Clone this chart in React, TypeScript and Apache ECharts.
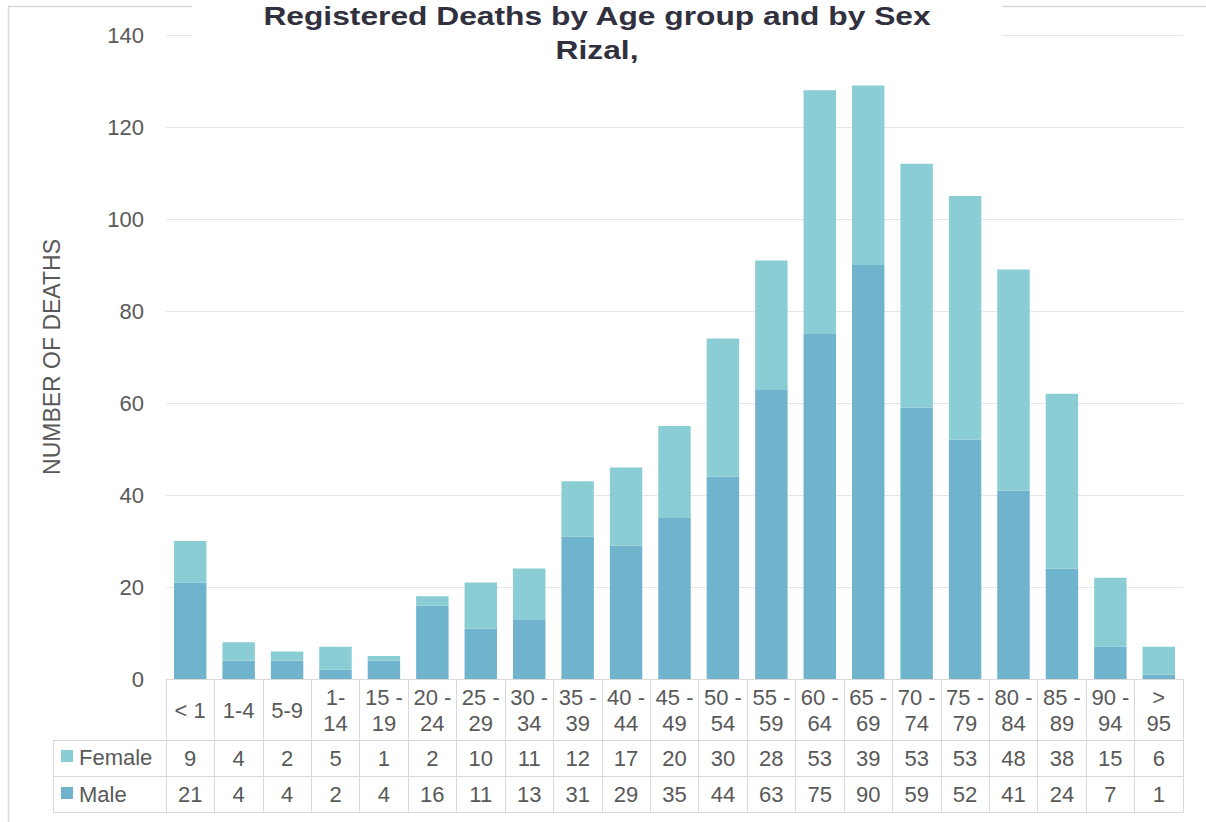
import React, { useEffect, useRef } from "react";
import * as echarts from "echarts";

const categories = ["< 1", "1-4", "5-9", "1-\n14", "15 -\n19", "20 -\n24", "25 -\n29", "30 -\n34", "35 -\n39", "40 -\n44", "45 -\n49", "50 -\n54", "55 -\n59", "60 -\n64", "65 -\n69", "70 -\n74", "75 -\n79", "80 -\n84", "85 -\n89", "90 -\n94", ">\n95"];
const female = [9, 4, 2, 5, 1, 2, 10, 11, 12, 17, 20, 30, 28, 53, 39, 53, 53, 48, 38, 15, 6];
const male = [21, 4, 4, 2, 4, 16, 11, 13, 31, 29, 35, 44, 63, 75, 90, 59, 52, 41, 24, 7, 1];
const yTicks = { min: 0, max: 140, interval: 20 };

const FEMALE_COLOR = "#8bcdd4";
const MALE_COLOR = "#70b3cd";
const TEXT = "#595959";
const LINE = "#d9d9d9";
const FONT = "Liberation Sans, Arial, sans-serif";

export default function App() {
  const ref = useRef<HTMLDivElement>(null);
  useEffect(() => {
    if (!ref.current) return;
    const chart = echarts.init(ref.current, null, { renderer: "svg" });
    const gridLeft = 166, gridRight = 1183;
    const valueAxis = (vals: number[], margin: number) => ({
      type: "category",
      gridIndex: 0,
      position: "bottom",
      data: vals.map(String),
      axisLine: { show: false },
      axisTick: { show: false },
      splitLine: { show: false },
      axisLabel: { interval: 0, margin, verticalAlign: "middle", fontSize: 22, color: TEXT, fontFamily: FONT },
    });
    chart.setOption({
      animation: false,
      textStyle: { fontFamily: FONT },
      grid: { left: gridLeft, right: 1206 - gridRight, top: 35, bottom: 143, containLabel: false },
      xAxis: [
        {
          type: "category",
          data: categories,
          position: "bottom",
          axisLine: { show: true, lineStyle: { color: LINE, width: 1 } },
          axisTick: { show: true, length: 133, interval: 0, lineStyle: { color: LINE, width: 1 } },
          axisLabel: { interval: 0, margin: 31, verticalAlign: "middle", fontSize: 22, lineHeight: 26, color: TEXT, fontFamily: FONT },
        },
        valueAxis(female, 79),
        valueAxis(male, 115),
      ],
      yAxis: {
        type: "value",
        min: yTicks.min,
        max: yTicks.max,
        interval: yTicks.interval,
        name: "NUMBER OF DEATHS",
        nameLocation: "middle",
        nameGap: 103,
        nameTextStyle: { fontSize: 23, color: TEXT, fontFamily: FONT },
        axisLine: { show: false },
        axisTick: { show: false },
        axisLabel: { fontSize: 22, color: TEXT, margin: 22, fontFamily: FONT },
        splitLine: { lineStyle: { color: "#e6e6e6", width: 1 } },
      },
      series: [
        { name: "Male", type: "bar", stack: "total", data: male, barWidth: "67%", itemStyle: { color: MALE_COLOR } },
        { name: "Female", type: "bar", stack: "total", data: female, barWidth: "67%", itemStyle: { color: FEMALE_COLOR } },
      ],
      graphic: [
        { type: "rect", z: 1, silent: true, shape: { x: 8.5, y: 6.5, width: 1400, height: 1000 }, style: { fill: "none", stroke: LINE, lineWidth: 1.5 } },
        { type: "rect", z: 50, silent: true, shape: { x: 192, y: 0, width: 810, height: 68 }, style: { fill: "#ffffff" } },
        { type: "text", z: 60, x: 597, y: 16, scaleX: 1.27, style: { text: "Registered Deaths by Age group and by Sex", font: `bold 25px ${FONT}`, fill: "#31303f", align: "center", verticalAlign: "middle" } },
        { type: "text", z: 60, x: 597, y: 50, scaleX: 1.27, style: { text: "Rizal,", font: `bold 25px ${FONT}`, fill: "#31303f", align: "center", verticalAlign: "middle" } },
        { type: "line", z: 5, silent: true, shape: { x1: 53, y1: 740.5, x2: gridRight, y2: 740.5 }, style: { stroke: LINE, lineWidth: 1 } },
        { type: "line", z: 5, silent: true, shape: { x1: 53, y1: 776.5, x2: gridRight, y2: 776.5 }, style: { stroke: LINE, lineWidth: 1 } },
        { type: "line", z: 5, silent: true, shape: { x1: 53, y1: 812.5, x2: gridRight, y2: 812.5 }, style: { stroke: LINE, lineWidth: 1 } },
        { type: "line", z: 5, silent: true, shape: { x1: 53.5, y1: 740, x2: 53.5, y2: 812 }, style: { stroke: LINE, lineWidth: 1 } },
        { type: "rect", z: 5, silent: true, shape: { x: 61, y: 750, width: 12, height: 12 }, style: { fill: FEMALE_COLOR } },
        { type: "text", z: 5, x: 79, y: 757, style: { text: "Female", font: `22px ${FONT}`, fill: TEXT, verticalAlign: "middle" } },
        { type: "rect", z: 5, silent: true, shape: { x: 61, y: 787, width: 12, height: 12 }, style: { fill: MALE_COLOR } },
        { type: "text", z: 5, x: 79, y: 794, style: { text: "Male", font: `22px ${FONT}`, fill: TEXT, verticalAlign: "middle" } },
      ],
    });
    return () => chart.dispose();
  }, []);
  return <div ref={ref} style={{ position: "absolute", left: 0, top: 0, width: 1206, height: 822 }} />;
}
